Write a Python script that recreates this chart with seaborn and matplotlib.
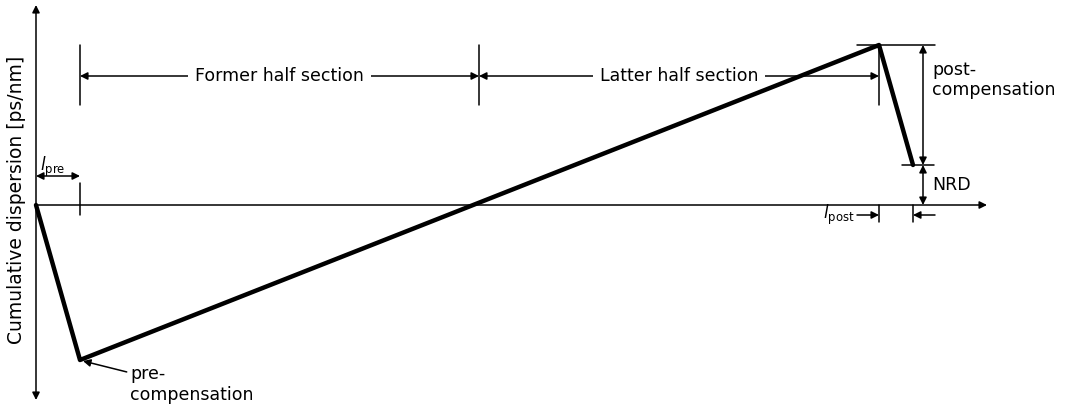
import matplotlib
matplotlib.use("Agg")
import matplotlib.pyplot as plt
import seaborn as sns

# Dispersion map (distance along the link vs cumulative dispersion)
distance = [0, 44, 843, 877]
dispersion = [0, -155, 160, 40]

# Section boundaries: end of pre-comp, middle of link, start of post-comp
section_edges = [44, 443, 843]
section_labels = ["Former half section", "Latter half section"]

nrd_level = 40
post_top = 160

sns.set_theme(style="white")
plt.rcParams["font.family"] = ["DejaVu Sans"]
plt.rcParams["text.color"] = "black"

fig = plt.figure(figsize=(10.66, 4.07), dpi=100)
ax = fig.add_axes([0, 0, 1, 1])
ax.set_xlim(-36, 1030)
ax.set_ylim(-202, 205)
ax.axis("off")


def arrow(x0, y0, x1, y1, style="<|-|>"):
    ax.annotate("", xy=(x1, y1), xytext=(x0, y0),
                arrowprops=dict(arrowstyle=style, color="black", lw=1.1,
                                mutation_scale=11, shrinkA=0, shrinkB=0))


def vline(x, y0, y1):
    ax.plot([x, x], [y0, y1], color="black", lw=1.1)


def hline(y, x0, x1):
    ax.plot([x0, x1], [y, y], color="black", lw=1.1)


# axes with arrow heads
arrow(0, -195, 0, 200)
arrow(0, 0, 951, 0, style="-|>")
ax.text(-19, 5, "Cumulative dispersion [ps/nm]", rotation=90,
        ha="center", va="center", fontsize=13.5)

# dispersion line, drawn above the labels
sns.lineplot(x=distance, y=dispersion, sort=False, color="black",
             linewidth=3.2, ax=ax, zorder=6)

# section dimension lines
for x in section_edges:
    vline(x, post_top, 100)
for i, lab in enumerate(section_labels):
    x0, x1 = section_edges[i], section_edges[i + 1]
    arrow(x0, 129, x1, 129)
    ax.text((x0 + x1) / 2, 129, lab, ha="center", va="center", fontsize=12.5,
            zorder=4,
            bbox=dict(facecolor="white", edgecolor="none", pad=5))

# l_pre
vline(distance[1], 22, -10)
arrow(0, 29, distance[1], 29)
ax.text(4, 38, r"$\mathit{l}_{\mathrm{pre}}$", ha="left", va="center",
        fontsize=12)

# pre-compensation label
ax.annotate("pre-\ncompensation", xy=(distance[1] + 3, dispersion[1] - 1),
            xytext=(94, -160), ha="left", va="top", fontsize=12.5,
            zorder=7,
            arrowprops=dict(arrowstyle="-|>", color="black", lw=1.1,
                            mutation_scale=11, shrinkA=0, shrinkB=0,
                            relpos=(0, 0.8)))

# post-compensation and NRD
hline(post_top, 821, 899)
hline(nrd_level, 866, 898)
arrow(887, post_top, 887, nrd_level)
arrow(887, nrd_level, 887, 0)
ax.text(896, 125, "post-\ncompensation", ha="left", va="center",
        fontsize=12.5)
ax.text(896, 20, "NRD", ha="left", va="center", fontsize=12.5)

# l_post
vline(distance[2], 0, -17)
vline(distance[3], 0, -17)
arrow(821, -10, distance[2], -10, style="-|>")
arrow(899, -10, distance[3], -10, style="-|>")
ax.text(819, -10, r"$\mathit{l}_{\mathrm{post}}$", ha="right", va="center",
        fontsize=12)

fig.savefig("out.png", dpi=100)
